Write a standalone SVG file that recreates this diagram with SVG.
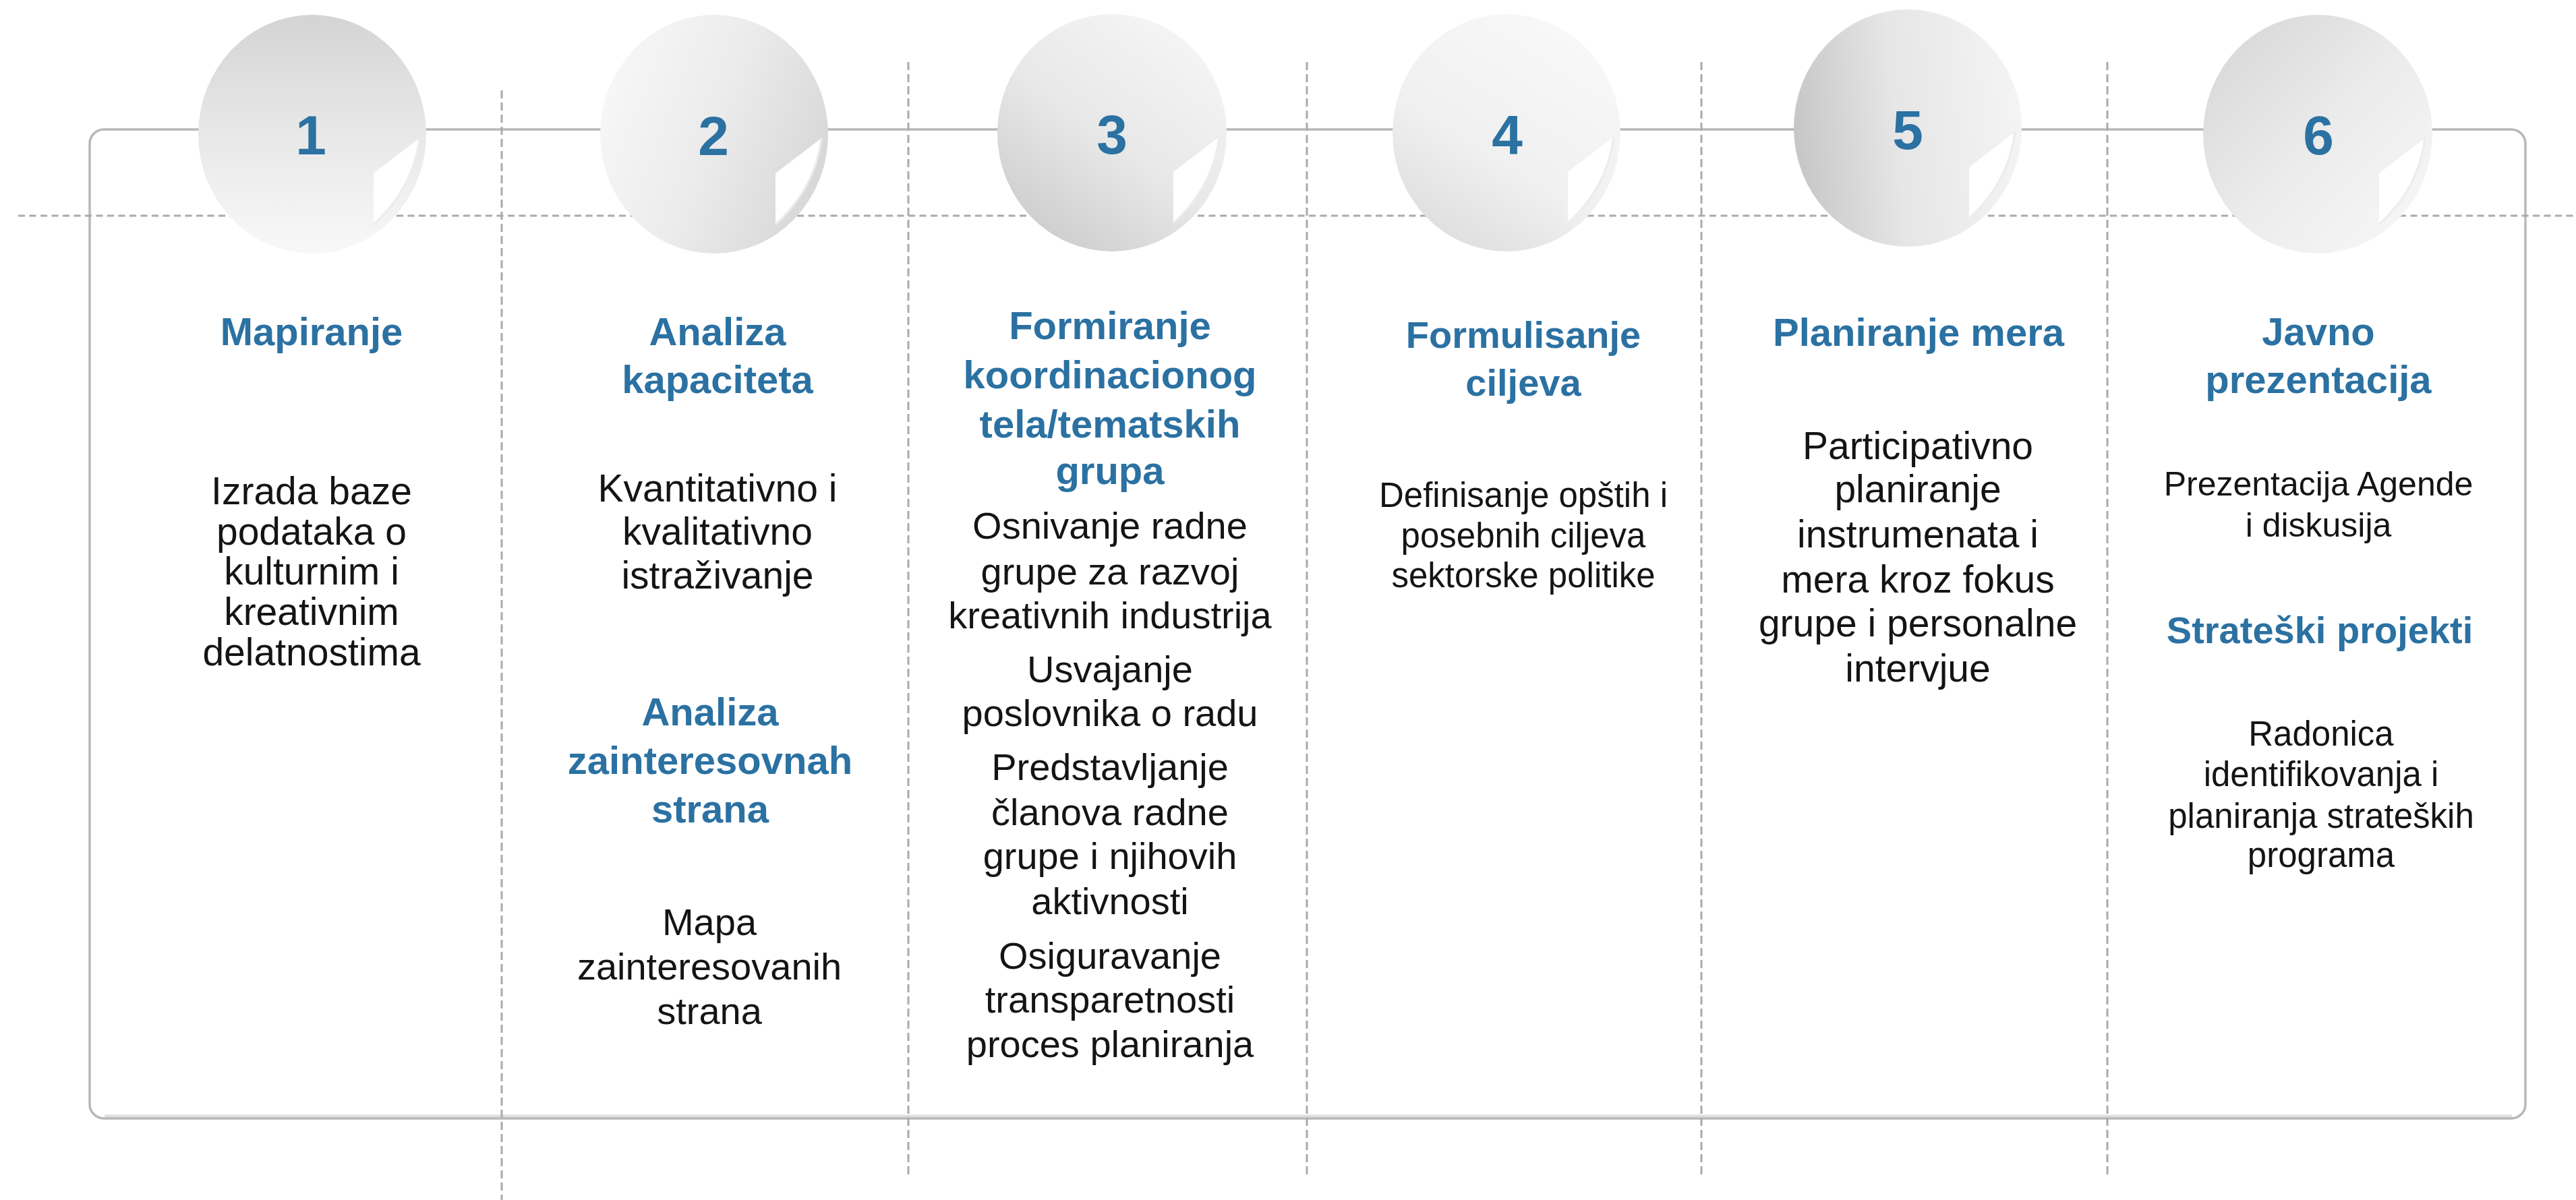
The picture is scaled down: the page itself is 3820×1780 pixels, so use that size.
<svg xmlns="http://www.w3.org/2000/svg" width="3820" height="1780" viewBox="0 0 3820 1780">
<style>
.h{font-family:"Liberation Sans",Arial,sans-serif;font-weight:bold;fill:#2B71A2;text-anchor:middle}
.b{font-family:"Liberation Sans",Arial,sans-serif;fill:#141414;text-anchor:middle}
.num{font-family:"Liberation Sans",Arial,sans-serif;font-weight:bold;fill:#2B71A2;text-anchor:middle;font-size:82px}
.vd{stroke:#aaaaaa;stroke-width:3;stroke-dasharray:12 6;fill:none}
.hd{stroke:#aaaaaa;stroke-width:3;stroke-dasharray:10 6.5;fill:none}
.frame{fill:none;stroke:#b8b8b8;stroke-width:3.5}
.notch{fill:#ffffff}
.curl{fill:none;stroke:#ececec;stroke-width:3}
</style>
<defs>
<linearGradient id="g1" x1="0.5" y1="0" x2="0.5" y2="1"><stop offset="0" stop-color="#d4d4d4"/><stop offset="0.5" stop-color="#e8e8e8"/><stop offset="1" stop-color="#f8f8f8"/></linearGradient>
<linearGradient id="g2" x1="0" y1="0.3" x2="1" y2="0.7"><stop offset="0" stop-color="#f7f7f7"/><stop offset="0.5" stop-color="#ebebeb"/><stop offset="1" stop-color="#d6d6d6"/></linearGradient>
<linearGradient id="g3" x1="0.9" y1="0" x2="0.2" y2="1"><stop offset="0" stop-color="#f7f7f7"/><stop offset="0.55" stop-color="#e8e8e8"/><stop offset="1" stop-color="#cbcbcb"/></linearGradient>
<linearGradient id="g4" x1="0.8" y1="0" x2="0.2" y2="1"><stop offset="0" stop-color="#f9f9f9"/><stop offset="0.6" stop-color="#f0f0f0"/><stop offset="1" stop-color="#dcdcdc"/></linearGradient>
<linearGradient id="g5" x1="0" y1="0.55" x2="1" y2="0.45"><stop offset="0" stop-color="#c6c6c6"/><stop offset="0.45" stop-color="#e6e6e6"/><stop offset="1" stop-color="#f4f4f4"/></linearGradient>
<linearGradient id="g6" x1="0" y1="0" x2="1" y2="1"><stop offset="0" stop-color="#d4d4d4"/><stop offset="0.5" stop-color="#ebebeb"/><stop offset="1" stop-color="#f9f9f9"/></linearGradient>
<path id="notch" class="notch" d="M159,6 L91,58 L91,134 Q150,80 159,6 Z"/>
<path id="curl" class="curl" d="M91,134 Q150,80 159,6"/>
</defs>
<rect x="0" y="0" width="3820" height="1780" fill="#ffffff"/>

<g id="connectors">
<line x1="155" y1="1655.5" x2="3725" y2="1655.5" stroke="#dedede" stroke-width="4"/>
<rect class="frame" x="133" y="192" width="3612" height="1467" rx="21" ry="21"/>
<line class="hd" x1="27" y1="320" x2="3820" y2="320"/>
<line class="vd" x1="744" y1="134" x2="744" y2="1780"/>
<line class="vd" x1="1347" y1="92" x2="1347" y2="1748"/>
<line class="vd" x1="1938" y1="92" x2="1938" y2="1748"/>
<line class="vd" x1="2523" y1="92" x2="2523" y2="1748"/>
<line class="vd" x1="3125" y1="92" x2="3125" y2="1748"/>
</g>

<g id="step1">
<ellipse cx="463" cy="199" rx="169" ry="177" fill="url(#g1)"/>
<use href="#notch" x="463" y="199"/><use href="#curl" x="463" y="199"/>
<text class="num" x="461" y="229">1</text>
<text class="h" x="462" y="512" font-size="58">Mapiranje</text>
<text class="b" x="462" y="748" font-size="57">Izrada baze</text>
<text class="b" x="462" y="808" font-size="57">podataka o</text>
<text class="b" x="462" y="867" font-size="57">kulturnim i</text>
<text class="b" x="462" y="927" font-size="57">kreativnim</text>
<text class="b" x="462" y="987" font-size="57">delatnostima</text>
</g>

<g id="step2">
<ellipse cx="1059" cy="199" rx="169" ry="177" fill="url(#g2)"/>
<use href="#notch" x="1059" y="199"/><use href="#curl" x="1059" y="199"/>
<text class="num" x="1058" y="230">2</text>
<text class="h" x="1064" y="512" font-size="58">Analiza</text>
<text class="h" x="1064" y="583" font-size="58">kapaciteta</text>
<text class="b" x="1064" y="744" font-size="57">Kvantitativno i</text>
<text class="b" x="1064" y="808" font-size="57">kvalitativno</text>
<text class="b" x="1064" y="873" font-size="57">istraživanje</text>
<text class="h" x="1053" y="1076" font-size="58">Analiza</text>
<text class="h" x="1053" y="1148" font-size="58">zainteresovnah</text>
<text class="h" x="1053" y="1220" font-size="58">strana</text>
<text class="b" x="1052" y="1387" font-size="56">Mapa</text>
<text class="b" x="1052" y="1453" font-size="56">zainteresovanih</text>
<text class="b" x="1052" y="1519" font-size="56">strana</text>
</g>

<g id="step3">
<ellipse cx="1649" cy="197" rx="170" ry="176" fill="url(#g3)"/>
<use href="#notch" x="1649" y="197"/><use href="#curl" x="1649" y="197"/>
<text class="num" x="1649" y="228">3</text>
<text class="h" x="1646" y="503" font-size="58">Formiranje</text>
<text class="h" x="1646" y="576" font-size="58">koordinacionog</text>
<text class="h" x="1646" y="649" font-size="58">tela/tematskih</text>
<text class="h" x="1646" y="718" font-size="58">grupa</text>
<text class="b" x="1646" y="799" font-size="56">Osnivanje radne</text>
<text class="b" x="1646" y="867" font-size="56">grupe za razvoj</text>
<text class="b" x="1646" y="932" font-size="56">kreativnih industrija</text>
<text class="b" x="1646" y="1012" font-size="56">Usvajanje</text>
<text class="b" x="1646" y="1077" font-size="56">poslovnika o radu</text>
<text class="b" x="1646" y="1157" font-size="56">Predstavljanje</text>
<text class="b" x="1646" y="1224" font-size="56">članova radne</text>
<text class="b" x="1646" y="1289" font-size="56">grupe i njihovih</text>
<text class="b" x="1646" y="1356" font-size="56">aktivnosti</text>
<text class="b" x="1646" y="1437" font-size="56">Osiguravanje</text>
<text class="b" x="1646" y="1502" font-size="56">transparetnosti</text>
<text class="b" x="1646" y="1568" font-size="56">proces planiranja</text>
</g>

<g id="step4">
<ellipse cx="2234" cy="197" rx="169" ry="176" fill="url(#g4)"/>
<use href="#notch" x="2234" y="197"/><use href="#curl" x="2234" y="197"/>
<text class="num" x="2235" y="228">4</text>
<text class="h" x="2259" y="516" font-size="56">Formulisanje</text>
<text class="h" x="2259" y="587" font-size="56">ciljeva</text>
<text class="b" x="2259" y="752" font-size="51">Definisanje opštih i</text>
<text class="b" x="2259" y="812" font-size="51">posebnih ciljeva</text>
<text class="b" x="2259" y="871" font-size="51">sektorske politike</text>
</g>

<g id="step5">
<ellipse cx="2829" cy="190" rx="169" ry="176" fill="url(#g5)"/>
<use href="#notch" x="2829" y="190"/><use href="#curl" x="2829" y="190"/>
<text class="num" x="2829" y="221">5</text>
<text class="h" x="2845" y="513" font-size="58">Planiranje mera</text>
<text class="b" x="2844" y="681" font-size="57">Participativno</text>
<text class="b" x="2844" y="745" font-size="57">planiranje</text>
<text class="b" x="2844" y="812" font-size="57">instrumenata i</text>
<text class="b" x="2844" y="879" font-size="57">mera kroz fokus</text>
<text class="b" x="2844" y="944" font-size="57">grupe i personalne</text>
<text class="b" x="2844" y="1011" font-size="57">intervjue</text>
</g>

<g id="step6">
<ellipse cx="3437" cy="199" rx="170" ry="177" fill="url(#g6)"/>
<use href="#notch" x="3437" y="199"/><use href="#curl" x="3437" y="199"/>
<text class="num" x="3438" y="229">6</text>
<text class="h" x="3438" y="512" font-size="58">Javno</text>
<text class="h" x="3438" y="583" font-size="58">prezentacija</text>
<text class="b" x="3438" y="735" font-size="50">Prezentacija Agende</text>
<text class="b" x="3438" y="796" font-size="50">i diskusija</text>
<text class="h" x="3440" y="954" font-size="56">Strateški projekti</text>
<text class="b" x="3442" y="1106" font-size="51">Radonica</text>
<text class="b" x="3442" y="1166" font-size="51">identifikovanja i</text>
<text class="b" x="3442" y="1228" font-size="51">planiranja strateških</text>
<text class="b" x="3442" y="1286" font-size="51">programa</text>
</g>
</svg>
